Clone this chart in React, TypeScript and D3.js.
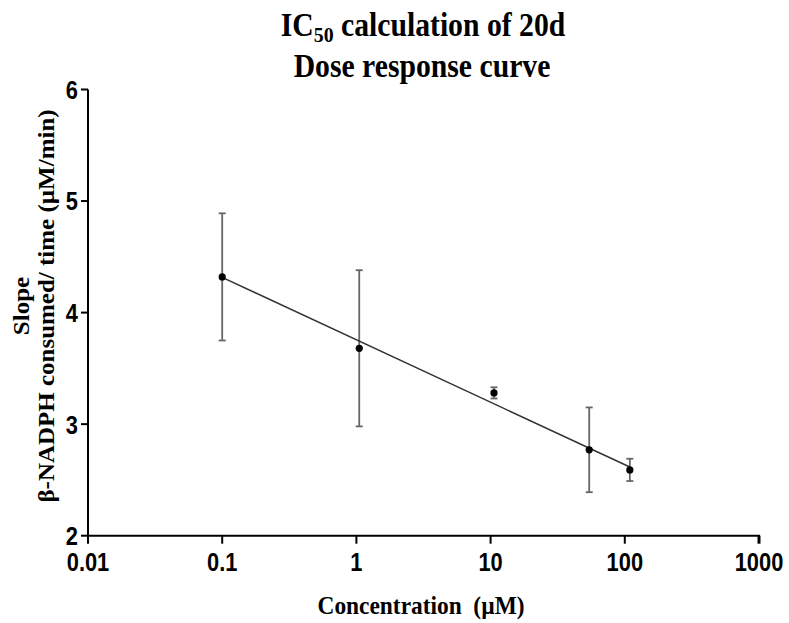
import React from "react";
import * as d3 from "d3";

const concentrations = [0.1, 1.05, 10.6, 54.3, 109];
const meanSlope = [4.32, 3.68, 3.28, 2.77, 2.59];
const errSlope = [0.57, 0.70, 0.05, 0.38, 0.10];
const fitX = [0.1, 109];
const fitY = [4.316, 2.616];
const xTicks = [0.01, 0.1, 1, 10, 100, 1000];
const xTickLabels = ["0.01", "0.1", "1", "10", "100", "1000"];
const yTicks = [2, 3, 4, 5, 6];

const W = 789;
const H = 623;
const margin = { left: 88, right: 30, top: 89.5, bottom: 87.3 };

export default function App() {
  const x = d3.scaleLog().domain([0.01, 1000]).range([margin.left, W - margin.right]);
  const y = d3.scaleLinear().domain([2, 6]).range([H - margin.bottom, margin.top]);
  const line = d3
    .line<number>()
    .x((_, i) => x(fitX[i]))
    .y((d) => y(d));
  const x0 = x.range()[0];
  const y0 = y.range()[0];
  const serif = "'Liberation Serif', 'Times New Roman', serif";
  const sans = "'Liberation Sans', Arial, sans-serif";
  const cap = 3.5;
  const sx = 0.84;
  const tx = 0.9;
  return (
    <svg width={W} height={H} style={{ position: "absolute", left: 0, top: 0, background: "#fff" }}>
      <rect width={W} height={H} fill="#fff" />
      {/* title */}
      <g transform={`translate(423, 36) scale(${tx}, 1)`}>
        <text x={0} y={0} textAnchor="middle" fontFamily={serif} fontWeight="bold" fontSize={33}>
          IC<tspan fontSize={22} dy={6}>50</tspan>
          <tspan dy={-6}> calculation of 20d</tspan>
        </text>
      </g>
      <g transform={`translate(422, 77) scale(${tx}, 1)`}>
        <text x={0} y={0} textAnchor="middle" fontFamily={serif} fontWeight="bold" fontSize={33}>
          Dose response curve
        </text>
      </g>
      {/* y label */}
      <g transform={`translate(29, 306) rotate(-90) scale(1, ${tx})`}>
        <text x={0} y={0} textAnchor="middle" fontFamily={serif} fontWeight="bold" fontSize={25}>
          Slope
        </text>
        <text x={0} y={28} textAnchor="middle" fontFamily={serif} fontWeight="bold" fontSize={25}>
          β-NADPH consumed/ time (µM/min)
        </text>
      </g>
      {/* x label */}
      <g transform={`translate(421, 614) scale(${tx}, 1)`}>
        <text x={0} y={0} textAnchor="middle" fontFamily={serif} fontWeight="bold" fontSize={26}>
          Concentration{"\u00a0\u00a0"}(µM)
        </text>
      </g>
      {/* axes */}
      <line x1={x0} x2={x0} y1={margin.top} y2={y0 + 1} stroke="#000" strokeWidth={2} />
      <line x1={x0 - 1} x2={x.range()[1] + 1} y1={y0} y2={y0} stroke="#000" strokeWidth={2} />
      {yTicks.map((t) => (
        <g key={"y" + t}>
          <line x1={x0 - 7} x2={x0} y1={y(t)} y2={y(t)} stroke="#000" strokeWidth={2} />
          <g transform={`translate(${x0 - 10}, ${y(t)}) scale(${sx}, 1)`}>
            <text x={0} y={0} dy="0.36em" textAnchor="end" fontFamily={sans} fontWeight="bold" fontSize={26}>
              {t}
            </text>
          </g>
        </g>
      ))}
      {xTicks.map((t, i) => (
        <g key={"x" + t}>
          <line
            x1={x(t)}
            x2={x(t)}
            y1={y0}
            y2={y0 + 8}
            stroke="#000"
            strokeWidth={i === xTicks.length - 1 ? 3 : 2}
          />
          <g transform={`translate(${x(t)}, ${y0 + 17}) scale(${sx}, 1)`}>
            <text x={0} y={0} dy="0.72em" textAnchor="middle" fontFamily={sans} fontWeight="bold" fontSize={26}>
              {xTickLabels[i]}
            </text>
          </g>
        </g>
      ))}
      {/* error bars */}
      {concentrations.map((c, i) => {
        const cx = x(c);
        const yt = y(meanSlope[i] + errSlope[i]);
        const yb = y(meanSlope[i] - errSlope[i]);
        return (
          <g key={"e" + i} stroke="#666" strokeWidth={1.8}>
            <line x1={cx} x2={cx} y1={yt} y2={yb} />
            <line x1={cx - cap} x2={cx + cap} y1={yt} y2={yt} />
            <line x1={cx - cap} x2={cx + cap} y1={yb} y2={yb} />
          </g>
        );
      })}
      {/* fit line */}
      <path d={line(fitY) || ""} fill="none" stroke="#333" strokeWidth={1.5} />
      {/* points */}
      {concentrations.map((c, i) => (
        <circle key={"p" + i} cx={x(c)} cy={y(meanSlope[i])} r={3.6} fill="#000" />
      ))}
    </svg>
  );
}
